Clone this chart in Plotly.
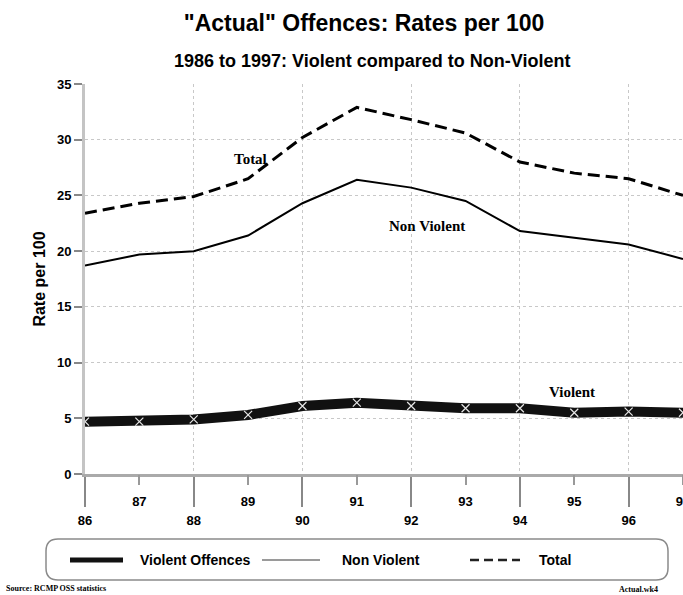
import plotly.graph_objects as go

# Year of offence (two-digit), plotted on the x axis
years = [86, 87, 88, 89, 90, 91, 92, 93, 94, 95, 96, 97]
year_labels = ["86", "87", "88", "89", "90", "91", "92", "93", "94", "95", "96", "97"]

# Rates per 100
total = [23.4, 24.3, 24.9, 26.5, 30.2, 32.9, 31.8, 30.6, 28.0, 27.0, 26.5, 25.0]
non_violent = [18.7, 19.7, 20.0, 21.4, 24.3, 26.4, 25.7, 24.5, 21.8, 21.2, 20.6, 19.3]
violent = [4.7, 4.7, 4.9, 5.3, 6.1, 6.4, 6.1, 5.9, 5.9, 5.5, 5.6, 5.5]

y_ticks = [0, 5, 10, 15, 20, 25, 30, 35]

W, H = 683, 595
ML, MR, MT, MB = 85, 0, 84, 121
PW, PH = W - ML - MR, H - MT - MB

NARROW = "Liberation Sans Narrow, Arial Narrow, Liberation Sans, Arial, sans-serif"
SERIF = "Liberation Serif, Times New Roman, serif"


def px(x):
    """Pixel column -> paper x fraction."""
    return (x - ML) / PW


def py(y):
    """Pixel row -> paper y fraction."""
    return (H - MB - y) / PH


fig = go.Figure()

fig.add_trace(go.Scatter(
    x=years, y=total, mode="lines", name="Total",
    line=dict(color="black", width=3, dash="12px,6px"),
))
fig.add_trace(go.Scatter(
    x=years, y=non_violent, mode="lines", name="Non Violent",
    line=dict(color="black", width=2),
))
fig.add_trace(go.Scatter(
    x=years, y=violent, mode="lines+markers", name="Violent Offences",
    line=dict(color="#111", width=10),
    marker=dict(symbol="x-thin", size=8, color="white",
                line=dict(color="#e8e8e8", width=1.2)),
))

even = [y for y in years if y % 2 == 0]
odd = [y for y in years if y % 2 == 1]
lab = dict(zip(years, year_labels))

tick_font = dict(family=NARROW, size=13, color="black", weight="bold")
GRID = "#c8c8c8"

fig.update_layout(
    width=W, height=H,
    margin=dict(l=ML, r=MR, t=MT, b=MB, autoexpand=False),
    paper_bgcolor="white", plot_bgcolor="white",
    showlegend=False,
    title=dict(
        text='"Actual" Offences: Rates per 100',
        font=dict(family=NARROW, size=23, color="black", weight="bold"),
        x=0.533, xanchor="center", xref="container",
        y=1 - 23 / H, yanchor="middle", yref="container",
    ),
    xaxis=dict(
        range=[86, 97], tickvals=even, ticktext=[lab[v] for v in even],
        ticks="outside", ticklen=30, tickwidth=1.5, tickcolor="#888",
        ticklabelstandoff=2, tickfont=tick_font, automargin=False,
        showgrid=True, gridcolor=GRID, griddash="dot", gridwidth=1,
        showline=True, linecolor="#aaa", linewidth=3,
        zeroline=False, fixedrange=True,
    ),
    xaxis2=dict(
        range=[86, 97], overlaying="x", anchor="y", side="bottom",
        tickvals=odd, ticktext=[lab[v] for v in odd],
        ticks="outside", ticklen=10, tickwidth=1.5, tickcolor="#999",
        ticklabelstandoff=5, tickfont=tick_font, ticklabeloverflow="allow",
        automargin=False,
        showgrid=False, showline=False, zeroline=False,
    ),
    yaxis=dict(
        range=[0, 35], tickvals=y_ticks, ticks="outside", ticklen=8,
        tickwidth=1.5, tickcolor="#888", tickfont=tick_font, automargin=False,
        showgrid=True, gridcolor=GRID, griddash="dot", gridwidth=1,
        showline=True, linecolor="#c4c4c4", linewidth=3,
        zeroline=False,
        title=dict(text="Rate per 100", standoff=8,
                   font=dict(family=NARROW, size=16, color="black", weight="bold")),
    ),
)

# An invisible trace to make the secondary (odd-year) axis render
fig.add_trace(go.Scatter(x=[86], y=[0], xaxis="x2", mode="markers",
                         marker=dict(opacity=0), hoverinfo="skip"))

# Subtitle
fig.add_annotation(
    text="1986 to 1997: Violent compared to Non-Violent",
    xref="paper", yref="paper", x=px(372), y=py(61),
    xanchor="center", yanchor="middle",
    showarrow=False, font=dict(family=NARROW, size=18, color="black", weight="bold"),
)

# Series labels on the chart
series_font = dict(family=SERIF, size=15, color="black", weight="bold")
for txt, x, y in [("Total", 89.05, 28.3), ("Non Violent", 92.3, 22.3),
                  ("Violent", 94.95, 7.4)]:
    fig.add_annotation(text=txt, x=x, y=y, xanchor="center", yanchor="middle",
                       showarrow=False, font=series_font)

# Legend: rounded box with line samples and labels
bx0, bx1, by0, by1 = px(46), px(668), py(539), py(580)
rx, ry = 12 / PW, 12 / PH
box = (f"M {bx0 + rx} {by0} L {bx1 - rx} {by0} Q {bx1} {by0} {bx1} {by0 - ry} "
       f"L {bx1} {by1 + ry} Q {bx1} {by1} {bx1 - rx} {by1} "
       f"L {bx0 + rx} {by1} Q {bx0} {by1} {bx0} {by1 + ry} "
       f"L {bx0} {by0 - ry} Q {bx0} {by0} {bx0 + rx} {by0} Z")
fig.add_shape(type="path", path=box, xref="paper", yref="paper",
              line=dict(color="#8a8a8a", width=1.5), fillcolor="white", layer="below")

ly = py(560)
legend_items = [
    (70, 123, dict(color="#111", width=5), 138, "Violent Offences"),
    (262, 320, dict(color="#9a9a9a", width=2), 340, "Non Violent"),
    (470, 520, dict(color="#222", width=2.5, dash="9px,5px"), 537, "Total"),
]
for x0, x1, ln, tx, txt in legend_items:
    fig.add_shape(type="line", xref="paper", yref="paper",
                  x0=px(x0), x1=px(x1), y0=ly, y1=ly, line=ln)
    fig.add_annotation(text=txt, xref="paper", yref="paper", x=px(tx), y=ly,
                       xanchor="left", yanchor="middle", showarrow=False,
                       font=dict(family=NARROW, size=14, color="black", weight="bold"))

# Footer notes
fig.add_annotation(text="Source: RCMP OSS statistics", xref="paper", yref="paper",
                   x=px(4), y=py(588), xanchor="left", yanchor="middle", showarrow=False,
                   font=dict(family=SERIF, size=8, color="black", weight="bold"))
fig.add_annotation(text="Actual.wk4", xref="paper", yref="paper",
                   x=px(638), y=py(589), xanchor="center", yanchor="middle", showarrow=False,
                   font=dict(family=SERIF, size=8, color="black", weight="bold"))

fig.write_html("out.html")
